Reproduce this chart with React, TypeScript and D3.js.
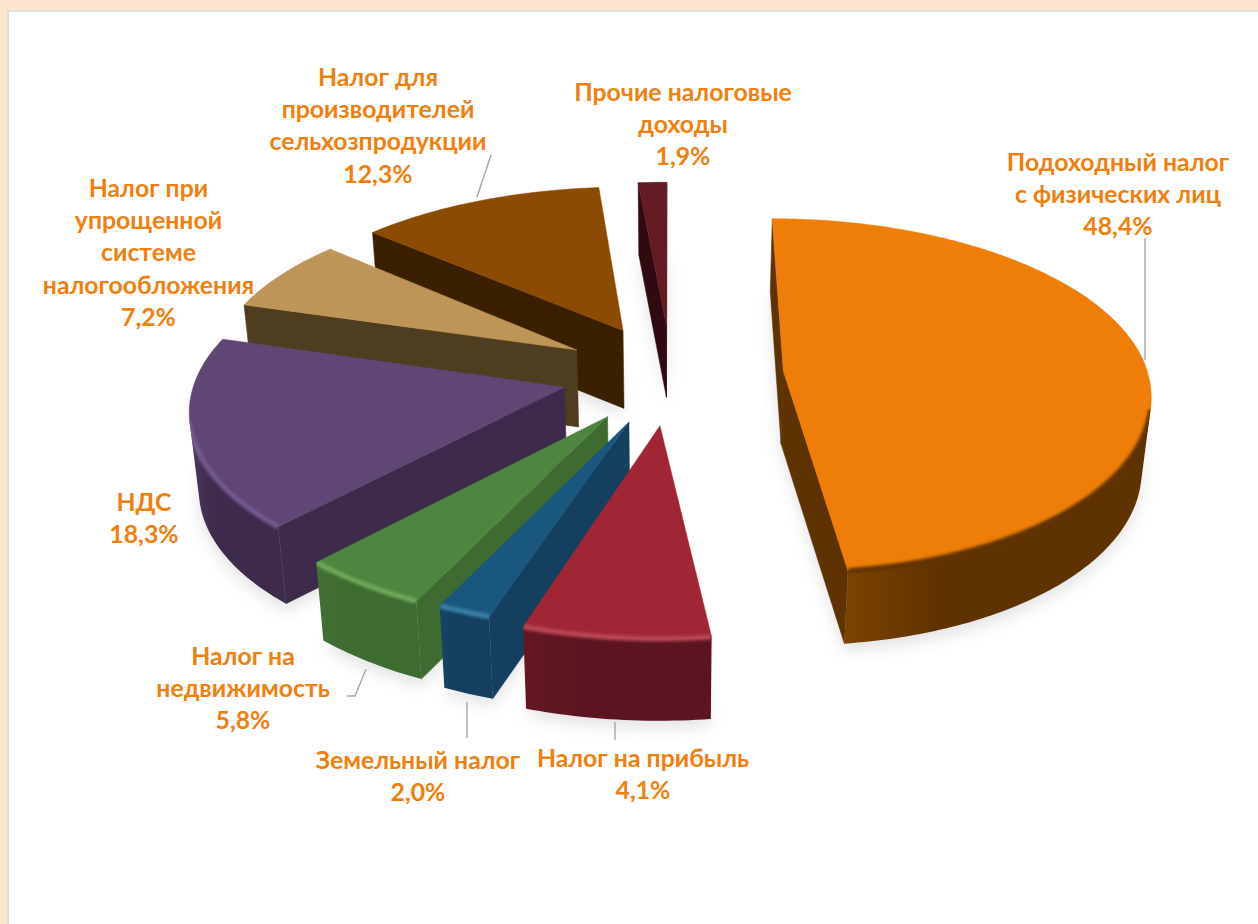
import React from "react";
import * as d3 from "d3";

// Category names, split into the lines they are printed on
const categories = [
  "Подоходный налог с физических лиц",
  "Налог на прибыль",
  "Земельный налог",
  "Налог на недвижимость",
  "НДС",
  "Налог при упрощенной системе налогообложения",
  "Налог для производителей сельхозпродукции",
  "Прочие налоговые доходы",
];
// Percentages as printed on the labels
const printedShares = ["48,4%", "4,1%", "2,0%", "5,8%", "18,3%", "7,2%", "12,3%", "1,9%"];
// Wedge sizes as they are actually drawn in the picture (percent of the circle)
const drawnShares = [48.05, 7.02, 2.03, 4.9, 17.6, 6.9, 12.1, 1.4];

const topColors = ["#EE7E07", "#A02635", "#19577F", "#4E853F", "#5F4674", "#BE9556", "#8C4B02", "#651B23"];
const sideColors = ["#5F3300", "#5C1520", "#143F5F", "#3E6B30", "#3E2A4B", "#4F3D20", "#3A2000", "#300A10"];
const sideLight = ["#7C4301", "#641721", "#164566", "#426F33", "#4A3559", "#4F3D20", "#3A2000", "#300A10"];
const rimColors = ["#5F3300", "#BC4654", "#3A80AA", "#70AA5A", "#755A90", "#BE9556", "#8C4B02", "#651B23"];

// Labels: lines of text, centre x, first line centre y
const labelLayout = [
  { lines: ["Подоходный налог", "с физических лиц"], x: 1118, y: 162 },
  { lines: ["Налог на прибыль"], x: 643, y: 758 },
  { lines: ["Земельный налог"], x: 418, y: 760 },
  { lines: ["Налог на", "недвижимость"], x: 243, y: 656 },
  { lines: ["НДС"], x: 144, y: 502 },
  { lines: ["Налог при", "упрощенной", "системе", "налогообложения"], x: 148.5, y: 188 },
  { lines: ["Налог для", "производителей", "сельхозпродукции"], x: 378, y: 77 },
  { lines: ["Прочие налоговые", "доходы"], x: 683, y: 92 },
];
const leaders: [number, number][][] = [
  [[1145, 238], [1145, 360]],
  [[615, 740], [615, 722]],
  [[467, 738], [467, 702]],
  [[347, 696], [355, 696], [366, 669]],
  [],
  [],
  [[491, 155], [477, 197]],
  [],
];
const drawOrder = [7, 6, 5, 4, 3, 2, 1, 0];

// Camera
const vx = 671, yh = -1181, y0 = 374, scaleX = 372, persp = 0.11;
const converge = 0.98;

// Per-slice rendering tweaks
const sliceExplode = [0.303, 0.294, 0.294, 0.294, 0.294, 0.294, 0.294, 0.294];
const sliceStretchX = [0.98, 1, 1, 1, 0.99, 0.985, 1, 1];
const sliceStretchNear = [1.047, 1.03, 1.005, 1.015, 1.01, 1, 1, 1];
const sliceStretchFar = [0.99, 1, 1, 1, 1, 0.985, 0.98, 0.985];
const sliceDepth = [73, 82, 82, 78, 77, 77, 78, 72];

type P = [number, number];
const project = (X: number, Y: number): P => {
  const k = 1 / (1 + Y * persp);
  return [vx + X * scaleX * k, yh + (y0 - yh) * k];
};
const area = (pts: P[]) => {
  let s = 0;
  pts.forEach((a, i) => {
    const b = pts[(i + 1) % pts.length];
    s += a[0] * b[1] - b[0] * a[1];
  });
  return s / 2;
};
const line = d3.line<P>();
const closed = (pts: P[]) => line(pts) + "Z";

const arcs = d3.pie<number>().sort(null).value((d) => d)(drawnShares);

const slices = arcs.map((a, i) => {
  const drop = (p: P): P => [vx + (p[0] - vx) * converge, p[1] + sliceDepth[i]];
  const mid = (a.startAngle + a.endAngle) / 2;
  const oy = sliceExplode[i] * Math.cos(mid);
  const ox = sliceExplode[i] * Math.sin(mid);
  const apex = project(ox, oy);
  const n = Math.max(6, Math.round((a.endAngle - a.startAngle) * 60));
  const rim = d3.range(n + 1).map((t) => {
    const th = a.startAngle + ((a.endAngle - a.startAngle) * t) / n;
    const c = Math.cos(th);
    return project(
      ox + Math.sin(th) * sliceStretchX[i],
      oy + c * (c < 0 ? sliceStretchNear[i] : sliceStretchFar[i])
    );
  });
  const top: P[] = [apex, ...rim];
  const bottom = top.map(drop);
  const walls: P[][] = [];
  const quad = (p: P, q: P): P[] => [p, q, drop(q), drop(p)];
  if (area(quad(apex, rim[0])) < 0) walls.push(quad(apex, rim[0]));
  if (area(quad(rim[n], apex)) < 0) walls.push(quad(rim[n], apex));
  const vis: P[] = [];
  for (let t = 0; t < n; t++) {
    if (area(quad(rim[t], rim[t + 1])) < 0) {
      if (!vis.length) vis.push(rim[t]);
      vis.push(rim[t + 1]);
    }
  }
  const outer = vis.length ? [...vis, ...vis.map(drop).reverse()] : null;
  return { i, top, bottom, walls, outer, vis };
});

export default function App() {
  return (
    <svg width={1258} height={924} style={{ position: "absolute", left: 0, top: 0, display: "block" }}>
      <defs>
        <filter id="shadow" filterUnits="userSpaceOnUse" x={0} y={0} width={1258} height={924}>
          <feGaussianBlur stdDeviation={8} />
        </filter>
        <filter id="rim" filterUnits="userSpaceOnUse" x={0} y={0} width={1258} height={924}>
          <feGaussianBlur stdDeviation={1.6} />
        </filter>
        {slices.map((s) => (
          <linearGradient key={s.i} id={`side${s.i}`} x1="0" x2="1" y1="0" y2="0">
            <stop offset="0" stopColor={sideLight[s.i]} />
            <stop offset="0.3" stopColor={sideColors[s.i]} />
            <stop offset="1" stopColor={sideColors[s.i]} />
          </linearGradient>
        ))}
        {slices.map((s) => (
          <clipPath key={s.i} id={`clip${s.i}`}>
            <path d={closed(s.top)} />
            {s.outer && <path d={closed(s.outer)} />}
          </clipPath>
        ))}
      </defs>
      <rect width={1258} height={924} fill="#FDE4CC" />
      <rect x={8} y={11} width={1270} height={930} fill="#FFFFFF" stroke="#DEDEDE" strokeWidth={2} />

      {slices.map((s) => (
        <path
          key={s.i}
          d={closed(s.bottom.map(([x, y]) => [x, y + 7] as P))}
          fill="#8A8A92"
          opacity={0.24}
          filter="url(#shadow)"
        />
      ))}

      {leaders.map((pts, i) =>
        pts.length ? <path key={i} d={line(pts)!} fill="none" stroke="#A6A6A6" strokeWidth={1.4} /> : null
      )}

      {drawOrder.map((i) => {
        const s = slices[i];
        return (
          <g key={i}>
            {s.walls.map((w, j) => (
              <path key={j} d={closed(w)} fill={sideColors[i]} stroke={sideColors[i]} strokeWidth={0.5} />
            ))}
            {s.outer && <path d={closed(s.outer)} fill={`url(#side${i})`} />}
            <path d={closed(s.top)} fill={topColors[i]} stroke={topColors[i]} strokeWidth={0.5} />
            {s.vis.length > 0 && (
              <g clipPath={`url(#clip${i})`}>
                <path d={line(s.vis)!} fill="none" stroke={rimColors[i]} strokeWidth={5} filter="url(#rim)" />
              </g>
            )}
          </g>
        );
      })}

      <g fontFamily="Lato, 'Open Sans', sans-serif" fontWeight={700} fontSize={24.8} fill="#F07F0E" textAnchor="middle">
        {labelLayout.map((l, i) => {
          const all = [...l.lines, printedShares[i]];
          return (
            <text key={categories[i]} x={l.x} y={l.y}>
              {all.map((t, j) => (
                <tspan key={j} x={l.x} y={l.y + j * 32.4} dy="0.35em">
                  {t}
                </tspan>
              ))}
            </text>
          );
        })}
      </g>
    </svg>
  );
}
